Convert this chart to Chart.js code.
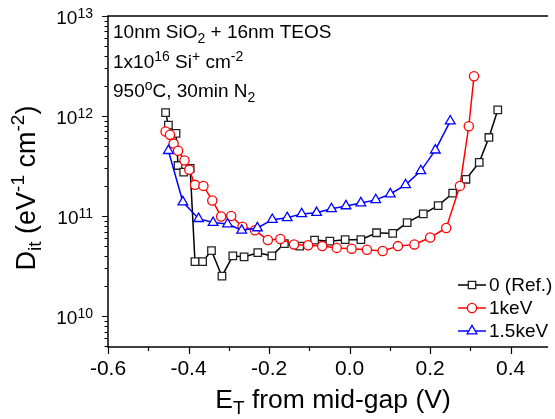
<!DOCTYPE html>
<html>
<head>
<meta charset="utf-8">
<script src="https://cdn.jsdelivr.net/npm/chart.js@4.4.0/dist/chart.umd.min.js"></script>
<style>
  html, body { margin: 0; padding: 0; background: #fff; }
  canvas { display: block; }
</style>
</head>
<body>
<canvas id="chart" width="555" height="419"></canvas>
<script>
// Data
const xRef = [-0.457, -0.450, -0.431, -0.426, -0.412, -0.396, -0.384, -0.365, -0.343, -0.317,
              -0.290, -0.262, -0.228, -0.193, -0.162, -0.124, -0.087, -0.049, -0.011, 0.028,
              0.067, 0.107, 0.143, 0.183, 0.220, 0.256, 0.289, 0.322, 0.346, 0.368];
const yRef = [1.08e12, 8.1e11, 6.7e11, 3.2e11, 2.75e11, 3.0e11, 3.5e10, 3.5e10, 4.5e10, 2.5e10,
              4.0e10, 3.9e10, 4.3e10, 4.0e10, 5.3e10, 5.0e10, 5.75e10, 5.6e10, 5.8e10, 5.8e10,
              6.8e10, 6.7e10, 8.6e10, 1.05e11, 1.27e11, 1.69e11, 2.33e11, 3.44e11, 6.1e11, 1.15e12];

const x1keV = [-0.457, -0.446, -0.437, -0.426, -0.410, -0.398, -0.384, -0.363, -0.341, -0.319,
               -0.294, -0.266, -0.235, -0.203, -0.172, -0.138, -0.103, -0.068, -0.032, 0.005,
               0.043, 0.082, 0.120, 0.161, 0.200, 0.240, 0.274, 0.296, 0.309];
const y1keV = [7.0e11, 6.5e11, 5.3e11, 4.5e11, 3.6e11, 2.9e11, 2.05e11, 2.0e11, 1.43e11, 9.9e10,
               1.0e11, 7.8e10, 7.2e10, 5.75e10, 5.9e10, 5.2e10, 5.1e10, 5.0e10, 4.8e10, 4.7e10,
               4.6e10, 4.47e10, 5.0e10, 5.2e10, 6.1e10, 7.6e10, 2.0e11, 7.9e11, 2.5e12];

const x15keV = [-0.450, -0.414, -0.375, -0.339, -0.303, -0.268, -0.229, -0.192, -0.155, -0.119,
                -0.082, -0.045, -0.009, 0.028, 0.065, 0.101, 0.139, 0.177, 0.213, 0.250];
const y15keV = [4.5e11, 1.38e11, 9.4e10, 8.6e10, 8.3e10, 7.2e10, 7.6e10, 9.2e10, 9.6e10, 1.05e11,
                1.08e11, 1.18e11, 1.26e11, 1.35e11, 1.45e11, 1.66e11, 2.05e11, 2.83e11, 4.55e11, 8.9e11];

const seriesLabels = ['0 (Ref.)', '1keV', '1.5keV'];
const seriesColors = ['#000000', '#ff0000', '#0000ff'];
const xTickLabels = [-0.6, -0.4, -0.2, 0.0, 0.2, 0.4];
const xMinorTicks = [-0.5, -0.3, -0.1, 0.1, 0.3];
const yDecades = [10, 11, 12, 13];

const FONT = '"Liberation Sans", Arial, sans-serif';

function toPoints(xs, ys) {
    return xs.map((x, i) => ({ x: x, y: ys[i] }));
}

// draw text made of pieces: [text, size, dy]
function drawRich(ctx, parts, x, y, align) {
    let total = 0;
    parts.forEach(p => {
        ctx.font = p[1] + 'px ' + FONT;
        total += ctx.measureText(p[0]).width;
    });
    let cx = x;
    if (align === 'center') cx = x - total / 2;
    if (align === 'right') cx = x - total;
    ctx.textAlign = 'left';
    ctx.textBaseline = 'alphabetic';
    parts.forEach(p => {
        ctx.font = p[1] + 'px ' + FONT;
        ctx.fillText(p[0], cx, y + p[2]);
        cx += ctx.measureText(p[0]).width;
    });
}

function drawMarker(ctx, style, x, y, color) {
    ctx.save();
    ctx.fillStyle = '#fff';
    ctx.strokeStyle = color;
    ctx.lineWidth = 1.3;
    ctx.beginPath();
    if (style === 'rect') {
        ctx.rect(x - 3.7, y - 3.7, 7.4, 7.4);
    } else if (style === 'circle') {
        ctx.arc(x, y, 4.6, 0, Math.PI * 2);
    } else {
        const r = 5.6;
        ctx.moveTo(x, y - r);
        ctx.lineTo(x + r * 0.866, y + r * 0.5);
        ctx.lineTo(x - r * 0.866, y + r * 0.5);
        ctx.closePath();
    }
    ctx.fill();
    ctx.stroke();
    ctx.restore();
}

const framePlugin = {
    id: 'framePlugin',
    afterDraw(chart) {
        const ctx = chart.ctx;
        const area = chart.chartArea;
        const xs = chart.scales.x;
        const ys = chart.scales.y;
        ctx.save();
        ctx.strokeStyle = '#000';
        ctx.fillStyle = '#000';
        ctx.lineWidth = 1.5;

        // frame: left, bottom, top
        ctx.beginPath();
        ctx.moveTo(area.right, area.top);
        ctx.lineTo(area.left, area.top);
        ctx.lineTo(area.left, area.bottom);
        ctx.lineTo(area.right, area.bottom);
        ctx.stroke();

        // x ticks
        ctx.lineWidth = 1.2;
        ctx.beginPath();
        xTickLabels.forEach(v => {
            const px = Math.round(xs.getPixelForValue(v)) + 0.5;
            ctx.moveTo(px, area.bottom);
            ctx.lineTo(px, area.bottom + 7);
        });
        xMinorTicks.forEach(v => {
            const px = Math.round(xs.getPixelForValue(v)) + 0.5;
            ctx.moveTo(px, area.bottom);
            ctx.lineTo(px, area.bottom + 4);
        });
        // y ticks
        yDecades.forEach(d => {
            const py = Math.round(ys.getPixelForValue(Math.pow(10, d))) + 0.5;
            ctx.moveTo(area.left, py);
            ctx.lineTo(area.left - 6, py);
            for (let m = 2; m <= 9; m++) {
                const v = m * Math.pow(10, d - 1);
                if (v < ys.min) continue;
                const pm = Math.round(ys.getPixelForValue(v)) + 0.5;
                ctx.moveTo(area.left, pm);
                ctx.lineTo(area.left - 3.5, pm);
            }
        });
        ctx.stroke();

        // x tick labels
        ctx.font = '21px ' + FONT;
        ctx.textAlign = 'center';
        ctx.textBaseline = 'alphabetic';
        xTickLabels.forEach(v => {
            ctx.fillText(v.toFixed(1), xs.getPixelForValue(v), 375);
        });

        // y tick labels 10^n
        yDecades.forEach(d => {
            const py = ys.getPixelForValue(Math.pow(10, d));
            drawRich(ctx, [['10', 19, 0], [String(d), 14, -6]], 93, py + 8, 'right');
        });

        // axis titles
        drawRich(ctx, [['E', 26.5, 0], ['T', 19, 6], [' from mid-gap (V)', 26.5, 0]], 333, 408, 'center');
        ctx.save();
        ctx.translate(35, 188);
        ctx.rotate(-Math.PI / 2);
        drawRich(ctx, [['D', 27, 0], ['it', 19, 6], [' (eV', 27, 0], ['-1', 19, -11],
                       [' cm', 27, 0], ['-2', 19, -11], [')', 27, 0]], 0, 0, 'center');
        ctx.restore();

        // annotation
        drawRich(ctx, [['10nm SiO', 19, 0], ['2', 14, 5], [' + 16nm TEOS', 19, 0]], 113, 38, 'left');
        drawRich(ctx, [['1x10', 19, 0], ['16', 14, -7], [' Si', 19, 0], ['+', 14, -7],
                       [' cm', 19, 0], ['-2', 14, -7]], 113, 68, 'left');
        drawRich(ctx, [['950', 19, 0], ['o', 14, -7], ['C, 30min N', 19, 0], ['2', 14, 5]], 113, 97, 'left');

        // legend
        const styles = ['rect', 'circle', 'triangle'];
        const rows = [285, 308, 331];
        rows.forEach((ry, i) => {
            ctx.strokeStyle = seriesColors[i];
            ctx.lineWidth = 1.5;
            ctx.beginPath();
            ctx.moveTo(458, ry);
            ctx.lineTo(486, ry);
            ctx.stroke();
            drawMarker(ctx, styles[i], 472, ry, i === 0 ? '#222' : seriesColors[i]);
            ctx.fillStyle = '#000';
            ctx.font = '19px ' + FONT;
            ctx.textAlign = 'left';
            ctx.textBaseline = 'middle';
            ctx.fillText(seriesLabels[i], 489, ry + 1);
        });
        ctx.restore();
    }
};

function makeSet(i, xs, ys, style, radius) {
    return {
        label: seriesLabels[i],
        data: toPoints(xs, ys),
        showLine: true,
        borderColor: seriesColors[i],
        borderWidth: 1.5,
        pointStyle: style,
        pointRadius: radius,
        pointBackgroundColor: '#ffffff',
        pointBorderColor: i === 0 ? '#222222' : seriesColors[i],
        pointBorderWidth: 1.3,
        tension: 0,
        order: 3 - i
    };
}

new Chart(document.getElementById('chart'), {
    type: 'scatter',
    data: {
        datasets: [
            makeSet(0, xRef, yRef, 'rect', 5.3),
            makeSet(1, x1keV, y1keV, 'circle', 4.6),
            makeSet(2, x15keV, y15keV, 'triangle', 5.6)
        ]
    },
    options: {
        responsive: false,
        animation: false,
        devicePixelRatio: 1,
        layout: { padding: { top: 16, right: 0, left: 0, bottom: 0 } },
        plugins: {
            legend: { display: false },
            tooltip: { enabled: false }
        },
        scales: {
            x: {
                type: 'linear',
                min: -0.6,
                max: 0.493,
                grid: { display: false },
                border: { display: false },
                ticks: { display: false },
                afterFit: s => { s.height = 72; }
            },
            y: {
                type: 'logarithmic',
                min: 4.9e9,
                max: 1e13,
                grid: { display: false },
                border: { display: false },
                ticks: { display: false },
                afterFit: s => { s.width = 108; }
            }
        }
    },
    plugins: [framePlugin]
});
</script>
</body>
</html>
